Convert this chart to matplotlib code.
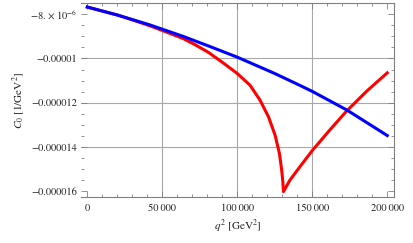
import numpy as np
import matplotlib.pyplot as plt
from matplotlib.ticker import MultipleLocator, FixedLocator

plt.rcParams['font.family'] = ['STIXGeneral', 'DejaVu Serif']
plt.rcParams['mathtext.fontset'] = 'stix'

# blue curve
q2_blue = [0, 20000, 41800, 64000, 80700, 100000, 125000, 141800, 150000, 173000, 200000]
c0_blue = [-7.67e-6, -8.03e-6, -8.48e-6, -9.00e-6, -9.43e-6, -9.94e-6, -1.068e-5,
           -1.122e-5, -1.149e-5, -1.233e-5, -1.349e-5]

# red curve, with the cusp near 131000
q2_red = [0, 20000, 30000, 41800, 55000, 64000, 72000, 80700, 90000, 100000, 108500,
          115200, 120800, 125200, 128100, 129600, 130400, 130800, 135000, 141800,
          150000, 161800, 172900, 186300, 200000]
c0_red = [-7.67e-6, -8.03e-6, -8.25e-6, -8.52e-6, -8.86e-6, -9.10e-6, -9.38e-6,
          -9.72e-6, -1.017e-5, -1.068e-5, -1.121e-5, -1.189e-5, -1.264e-5, -1.347e-5,
          -1.430e-5, -1.505e-5, -1.560e-5, -1.603e-5, -1.552e-5, -1.490e-5, -1.417e-5,
          -1.323e-5, -1.238e-5, -1.148e-5, -1.065e-5]

xticks = [0, 50000, 100000, 150000, 200000]
xlabels = ['0', '50\u2009000', '100\u2009000', '150\u2009000', '200\u2009000']
yticks = [-8e-6, -1e-5, -1.2e-5, -1.4e-5, -1.6e-5]
ylabels = [r'$-8.\times10^{-6}$', '\u22120.00001', '\u22120.000012', '\u22120.000014', '\u22120.000016']

fig = plt.figure(figsize=(4.14, 2.43), dpi=100)
ax = fig.add_axes([81/414, 1-196.7/243, (394-81)/414, (196.7-3.3)/243])

gc = '#a8a8a8'
for x in xticks[1:-1]:
    ax.axvline(x, color=gc, lw=0.8, zorder=1)
for y in yticks[1:-1]:
    ax.axhline(y, color=gc, lw=0.8, zorder=1)

ax.plot(q2_red, c0_red, color='#ff0000', lw=2.2, zorder=3)
ax.plot(q2_blue, c0_blue, color='#0000ff', lw=2.2, zorder=4)

ax.set_xlim(-4200, 204500)
ax.set_ylim(-1.626e-5, -7.5e-6)

ax.xaxis.set_major_locator(FixedLocator(xticks))
ax.set_xticklabels(xlabels)
ax.xaxis.set_minor_locator(MultipleLocator(10000))
ax.yaxis.set_major_locator(FixedLocator(yticks))
ax.set_yticklabels(ylabels)
ax.yaxis.set_minor_locator(MultipleLocator(5e-7))

ax.tick_params(which='both', direction='in', top=True, right=True, colors='#808080',
               labelcolor='#222222', labelsize=7.5, width=0.6)
ax.tick_params(which='major', length=4)
ax.tick_params(which='minor', length=2.2)
ax.tick_params(axis='x', pad=5)
ax.tick_params(axis='y', pad=3)

for s in ['top', 'right', 'bottom']:
    ax.spines[s].set_color('#808080')
    ax.spines[s].set_linewidth(0.8)
ax.spines['left'].set_visible(False)

ax.set_xlabel(r'$q^2$ [GeV$^2$]', fontsize=8, color='#222222', labelpad=3)
ax.set_ylabel(r'$C_0$ [1/GeV$^2$]', fontsize=8, color='#222222', labelpad=2)

fig.savefig('out.png', dpi=100)
